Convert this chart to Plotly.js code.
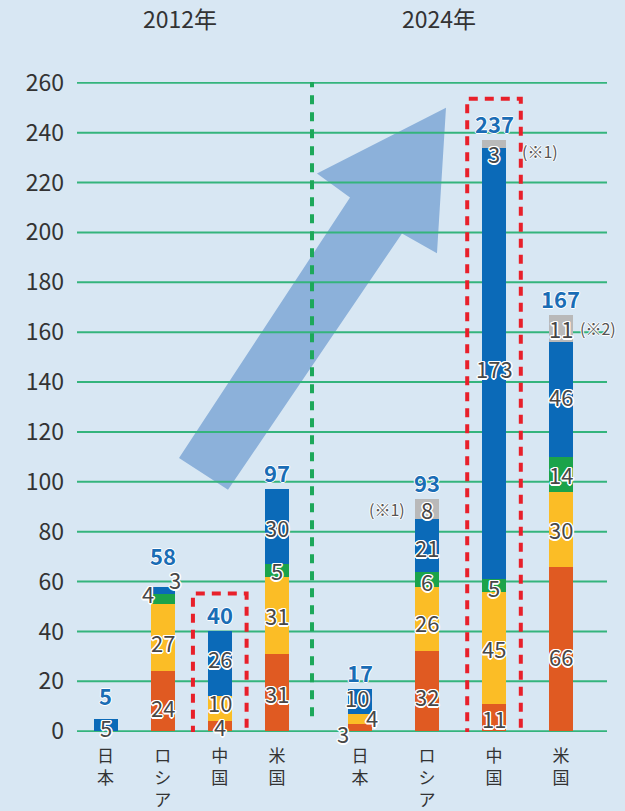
<!DOCTYPE html>
<html><head><meta charset="utf-8">
<script src="https://cdn.plot.ly/plotly-3.0.1.min.js"></script>
<style>html,body{margin:0;padding:0;background:#d8e7f3}</style>
</head><body><div id="chart" style="width:625px;height:811px"></div>
<script>
const countries = ['日本','ロシア','中国','米国'];
const yearLabels = ['2012年','2024年'];
// 2012
const orange2012 = [0,24,4,31];
const yellow2012 = [0,27,10,31];
const green2012  = [0,4,0,5];
const blue2012   = [5,3,26,30];
const gray2012   = [0,0,0,0];
const total2012  = [5,58,40,97];
// 2024
const orange2024 = [3,32,11,66];
const yellow2024 = [4,26,45,30];
const green2024  = [0,6,5,14];
const blue2024   = [10,21,173,46];
const gray2024   = [0,8,3,11];
const total2024  = [17,93,237,167];
const notes2024  = ['','(※1)','(※1)','(※2)'];
const yTicks = [0,20,40,60,80,100,120,140,160,180,200,220,240,260];

const colors = ['#e05a22','#fbbd26','#1ba34a','#0b6ab8','#b9b9b9'];
const font = '"Noto Sans CJK JP", "Noto Sans", sans-serif';
const series = [
  [orange2012,yellow2012,green2012,blue2012,gray2012],
  [orange2024,yellow2024,green2024,blue2024,gray2024]
];
const totals = [total2012,total2024];
const axes = ['x','x2'];
const widths = [0.42,0.37];

const traces = [];
series.forEach((grp,gi)=>{
  grp.forEach((vals,si)=>{
    traces.push({type:'bar',x:countries,y:vals,xaxis:axes[gi],yaxis:'y',
      marker:{color:colors[si],line:{width:0}},width:widths[gi],
      hoverinfo:'skip',showlegend:false});
  });
});

// label offsets (px): key year-country-series
const labelShift = {
 '0-0-3':[0,-2],
 '0-1-0':[0,-6],'0-1-1':[0,-4],'0-1-2':[-15,6],'0-1-3':[12,11],
 '0-2-1':[0,7],'0-2-3':[0,6],
 '1-0-0':[-17,-5],'1-0-1':[12,2],'1-0-3':[-3,4],
 '1-1-0':[0,-5],'1-1-1':[0,-3],'1-1-2':[0,-2],'1-1-3':[0,-2],
 '1-2-2':[0,-2],'1-2-3':[0,-5],'1-2-4':[0,-9],
 '1-3-0':[0,-7],'1-3-3':[0,4]
};
const totalShift = {'0-0':24,'0-1':32};
const noteShift = {1:[-40,0],2:[46,-7],3:[37,0]};
const outline = 'white 1.5px 0 0, white -1.5px 0 0, white 0 1.5px 0, white 0 -1.5px 0, white 1px 1px 0, white -1px -1px 0, white 1px -1px 0, white -1px 1px 0';

const ann = [];
series.forEach((grp,gi)=>{
  countries.forEach((c,ci)=>{
    let base = 0;
    grp.forEach((vals,si)=>{
      const v = vals[ci];
      if(v>0){
        const sh = labelShift[gi+'-'+ci+'-'+si]||[0,0];
        ann.push({xref:axes[gi],yref:'y',x:c,y:base+v/2,text:String(v),showarrow:false,
          xshift:sh[0],yshift:sh[1],xanchor:'center',yanchor:'middle',
          font:{family:font,size:22,color:'#474747',shadow:outline}});
        if(gi===1 && si===4 && notes2024[ci]){
          const ns = noteShift[ci];
          ann.push({xref:axes[gi],yref:'y',x:c,y:base+v/2,text:notes2024[ci],showarrow:false,
            xshift:ns[0],yshift:ns[1],xanchor:'center',yanchor:'middle',
            font:{family:font,size:16,color:'#555555',shadow:'white 1px 0 0, white -1px 0 0, white 0 1px 0, white 0 -1px 0'}});
        }
      }
      base += v;
    });
    const ts = totalShift[gi+'-'+ci]||17;
    ann.push({xref:axes[gi],yref:'y',x:c,y:totals[gi][ci],text:'<b>'+totals[gi][ci]+'</b>',showarrow:false,
      yshift:ts,xanchor:'center',yanchor:'middle',
      font:{family:font,size:22,color:'#1a6db5',shadow:'white 1px 0 0, white -1px 0 0, white 0 1px 0, white 0 -1px 0'}});
  });
});
// year titles
ann.push({xref:'paper',yref:'paper',x:0.1934,y:1.0985,text:yearLabels[0],showarrow:false,
  xanchor:'center',yanchor:'middle',font:{family:font,size:23,color:'#333333'}});
ann.push({xref:'paper',yref:'paper',x:0.6821,y:1.0985,text:yearLabels[1],showarrow:false,
  xanchor:'center',yanchor:'middle',font:{family:font,size:23,color:'#333333'}});

const vert = countries.map(c=>c.split('').join('<br>'));
const xax = (dom)=>({domain:dom,type:'category',range:[-0.5,3.5],anchor:'y',
  tickvals:countries,ticktext:vert,showgrid:false,zeroline:false,showline:false,
  ticks:'',ticklabelstandoff:12,tickfont:{family:font,size:17,color:'#333333'},fixedrange:true});

const shapes = [
  // arrow
  {type:'path',xref:'paper',yref:'y',layer:'below',
   path:'M0.1925,109.6 L0.5151,214 L0.4528,223.6 L0.6962,250 L0.6792,191.6 L0.6132,199.6 L0.2849,96.8 Z',
   fillcolor:'#8cb1da',line:{width:0}}
];
// gridlines across the full width (drawn above the arrow)
yTicks.forEach(t=>{
  shapes.push({type:'line',xref:'paper',yref:'y',x0:0,x1:1,y0:t,y1:t,layer:'below',
    line:{color:'#34b47c',width:2}});
});
shapes.push(
  // divider
  {type:'line',xref:'paper',yref:'y',x0:0.4434,x1:0.4434,y0:6,y1:278.8,layer:'above',
   line:{color:'#1da85a',width:4,dash:'9px,8px'}},
  // red boxes
  {type:'rect',xref:'x',yref:'y',x0:1.53,x1:2.47,y0:-28.4,y1:55.2,layer:'above',
   line:{color:'#e8202a',width:4,dash:'9px,7px'},fillcolor:'rgba(0,0,0,0)'},
  {type:'rect',xref:'x2',yref:'y',x0:1.6,x1:2.4,y0:-28.4,y1:253.6,layer:'above',
   line:{color:'#e8202a',width:4,dash:'9px,7px'},fillcolor:'rgba(0,0,0,0)'}
);

const layout = {
  width:625,height:811,
  margin:{l:77,r:18,t:82,b:79},
  paper_bgcolor:'#d8e7f3',plot_bgcolor:'#d8e7f3',
  barmode:'stack',
  xaxis:xax([0,0.431]),
  xaxis2:xax([0.4708,0.9764]),
  yaxis:{range:[-0.3,260.3],tickvals:yTicks,showgrid:false,
    zeroline:false,showline:false,ticks:'',
    ticklabelstandoff:12,tickfont:{family:font,size:23,color:'#333333'},fixedrange:true},
  annotations:ann,
  shapes:shapes,
  showlegend:false
};
Plotly.newPlot('chart',traces,layout,{displayModeBar:false,staticPlot:true});
</script></body></html>
